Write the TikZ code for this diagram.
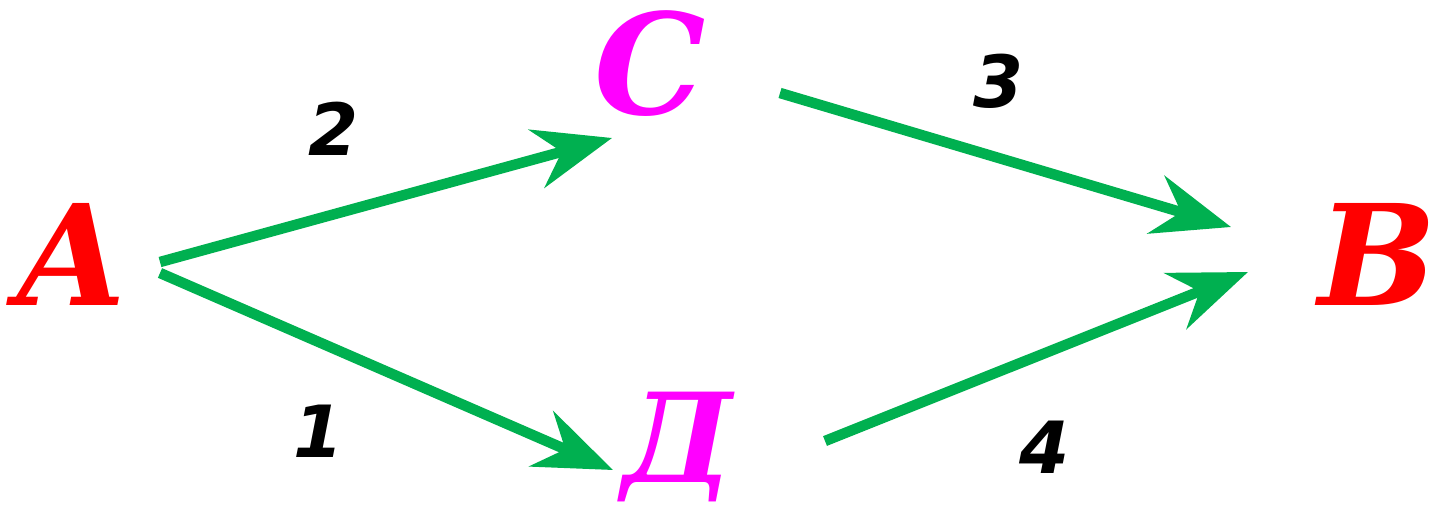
\documentclass[tikz,border=0pt]{standalone}
\usepackage{fontspec}
\usetikzlibrary{arrows.meta}
\newfontfamily\letterfont{DejaVu Serif}
\newfontfamily\numfont{DejaVu Sans}
\definecolor{pathgreen}{HTML}{00B050}
\definecolor{pointred}{HTML}{FF0000}
\definecolor{pointpink}{HTML}{FF00FF}
\tikzset{
  point/.style={anchor=base, inner sep=0pt,
    font=\letterfont\fontsize{140}{140}\selectfont\bfseries\itshape},
  weight/.style={anchor=base, inner sep=0pt,
    font=\numfont\fontsize{72}{72}\selectfont\bfseries\itshape},
  flow/.style={pathgreen, line width=10.5pt,
    -{Stealth[length=78pt, width=60pt, inset=26pt]}}
}

\begin{document}
\begin{tikzpicture}[x=1pt, y=-1pt]
        % === FRAME ===
        \useasboundingbox (0,0) rectangle (1437,516);

        % === POINTS ===
        \node[point, pointred]  (A) at (72,305)   {A};
        \node[point, pointpink] (C) at (650,115)  {C};
        \node[point, pointpink, font=\letterfont\fontsize{124}{124}\selectfont\bfseries\itshape]
              (D) at (678,482)  {Д};
        \node[point, pointred]  (B) at (1378,305) {B};

        % === PATH ENDS ===
        \coordinate (a-up) at (160,262);
        \coordinate (a-dn) at (160,273);
        \coordinate (c-in) at (612,138);
        \coordinate (d-in) at (613,470);
        \coordinate (c-out) at (780,93);
        \coordinate (d-out) at (825,441);
        \coordinate (b-up) at (1231,227);
        \coordinate (b-dn) at (1248,272);

        % === PATHS ===
        \draw[flow] (a-up) -- (c-in);
        \draw[flow] (a-dn) -- (d-in);
        \draw[flow] (c-out) -- (b-up);
        \draw[flow] (d-out) -- (b-dn);

        % === WEIGHTS ===
        \node[weight] (w2) at (334,155) {2};
        \node[weight] (w3) at (999,108) {3};
        \node[weight] (w1) at (319,457) {1};
        \node[weight] (w4) at (1045,473) {4};

    \end{tikzpicture}
\end{document}
